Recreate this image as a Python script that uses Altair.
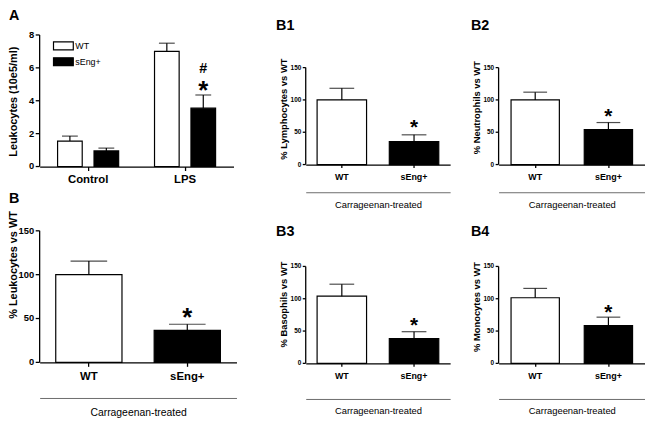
import altair as alt
import pandas as pd

FONT = "Liberation Sans"

# ---------------- data ----------------
# Panel A: leukocytes (10e5/ml)
a_groups = ["Control", "Control", "LPS", "LPS"]
a_series = ["WT", "sEng+", "WT", "sEng+"]
a_means = [1.55, 0.95, 7.0, 3.55]
a_errs = [0.3, 0.17, 0.5, 0.8]
a_sig_groups = ["LPS", "LPS"]
a_sig_series = ["sEng+", "sEng+"]
a_sig_y = [5.0, 6.0]
a_sig_sym = ["*", "#"]
a_yticks = [0, 2, 4, 6, 8]

genotypes = ["WT", "sEng+"]
pct_ticks = [0, 50, 100, 150]

b_means = [100, 36.5]
b_errs = [15.5, 7.0]
b_star = 57.5

b1_means = [100, 35.5]
b1_errs = [18, 10.5]
b1_star = 65

b2_means = [100, 54]
b2_errs = [12, 11]
b2_star = 83

b3_means = [104, 38.5]
b3_errs = [18.5, 10.5]
b3_star = 67

b4_means = [101.5, 58.5]
b4_errs = [14.5, 13]
b4_star = 87

fill_scale = alt.Scale(domain=genotypes, range=["white", "black"])


def y_axis_layers(ys, ticks, tick, lab_fs, title, title_fs, title_x, title_y):
    """Left axis drawn from marks on the panel's own y scale."""
    tdf = pd.DataFrame({"v": ticks})
    ldf = pd.DataFrame({"lo": [ticks[0]], "hi": [ticks[-1]]})
    line = alt.Chart(ldf).mark_rule(color="black", strokeWidth=1.3).encode(
        x=alt.value(0), y=alt.Y("lo:Q", scale=ys, axis=None), y2="hi:Q")
    tks = alt.Chart(tdf).mark_rule(color="black", strokeWidth=1.3).encode(
        x=alt.value(-tick), x2=alt.value(0), y=alt.Y("v:Q", scale=ys, axis=None))
    labs = alt.Chart(tdf).mark_text(align="right", baseline="middle", fontSize=lab_fs,
                                    fontWeight="bold", font=FONT, color="black").encode(
        x=alt.value(-tick - 1.5), y=alt.Y("v:Q", scale=ys, axis=None), text=alt.Text("v:Q"))
    ttl = alt.Chart(pd.DataFrame({"t": [title]})).mark_text(
        angle=270, align="center", baseline="middle", fontSize=title_fs, fontWeight="bold",
        font=FONT, color="black").encode(x=alt.value(title_x), y=alt.value(title_y), text="t:N")
    return [line, tks, labs, ttl]


def panel_label(text, x, y):
    return alt.Chart(pd.DataFrame({"p": [text]})).mark_text(
        align="left", baseline="top", fontSize=14.5, fontWeight="bold", font=FONT,
        color="black").encode(x=alt.value(x), y=alt.value(y), text="p:N")


# ---------------- panel A ----------------
a_df = pd.DataFrame({"group": a_groups, "series": a_series, "mean": a_means,
                     "top": [m + e for m, e in zip(a_means, a_errs)]})
a_sig = pd.DataFrame({"group": a_sig_groups, "series": a_sig_series,
                      "y": a_sig_y, "sym": a_sig_sym})

a_xs = alt.Scale(domain=["Control", "LPS"], range=[0, 196], paddingInner=0.37, paddingOuter=0.185)
a_xo = alt.Scale(domain=genotypes, paddingInner=0.324, paddingOuter=0)
a_ys = alt.Scale(domain=[0, 8], nice=False)

a_bars = alt.Chart(a_df).mark_bar(stroke="black", strokeWidth=1.2).encode(
    x=alt.X("group:N", scale=a_xs, axis=alt.Axis(title=None, labelAngle=0, labelFontSize=11.5,
                                                 labelFontWeight="bold", tickSize=4, labelPadding=3)),
    xOffset=alt.XOffset("series:N", scale=a_xo),
    y=alt.Y("mean:Q", scale=a_ys, axis=None),
    fill=alt.Fill("series:N", scale=fill_scale,
                  legend=alt.Legend(title=None, orient="none", legendX=15, legendY=2,
                                    symbolType="M-1.25,-0.5H1.25V0.5H-1.25Z", symbolSize=256,
                                    symbolStrokeColor="black", symbolStrokeWidth=1.2,
                                    labelFontSize=9, labelFont=FONT, labelOffset=3,
                                    rowPadding=0, padding=0, labelColor="black")),
)
a_rules = alt.Chart(a_df).mark_rule(color="black", strokeWidth=1.2).encode(
    x=alt.X("group:N", scale=a_xs, axis=None),
    xOffset=alt.XOffset("series:N", scale=a_xo),
    y=alt.Y("mean:Q", scale=a_ys, axis=None),
    y2="top:Q",
)
a_caps = alt.Chart(a_df).mark_tick(color="black", size=16, thickness=1.2).encode(
    x=alt.X("group:N", scale=a_xs, axis=None),
    xOffset=alt.XOffset("series:N", scale=a_xo),
    y=alt.Y("top:Q", scale=a_ys, axis=None),
)
a_star = alt.Chart(a_sig).transform_filter(alt.datum.sym == "*").mark_text(
    fontSize=26, fontWeight="bold", font=FONT, baseline="alphabetic", dy=14.5, color="black"
).encode(
    x=alt.X("group:N", scale=a_xs, axis=None),
    xOffset=alt.XOffset("series:N", scale=a_xo),
    y=alt.Y("y:Q", scale=a_ys, axis=None),
    text="sym:N",
)
a_hash = alt.Chart(a_sig).transform_filter(alt.datum.sym == "#").mark_text(
    fontSize=14.5, fontWeight="bold", font=FONT, baseline="alphabetic", dy=5.2, color="black"
).encode(
    x=alt.X("group:N", scale=a_xs, axis=None),
    xOffset=alt.XOffset("series:N", scale=a_xo),
    y=alt.Y("y:Q", scale=a_ys, axis=None),
    text="sym:N",
)
panel_a = alt.layer(
    a_bars, a_rules, a_caps, a_star, a_hash,
    *y_axis_layers(a_ys, a_yticks, 4, 9.5, "Leukocytes (10e5/ml)", 11, -25.5, 67.5),
    panel_label("A", -31, -26),
).resolve_axis(x="independent").properties(width=269, height=133)


# ---------------- panels B ----------------
def b_panel(label, ytitle, means, errs, star, w, h, ytop, xr, pin, cap, ylab_fs, xlab_fs,
            ytitle_fs, tick, title_x, title_y, sep_off, sep_fs, sep_pad, star_fs, xlab_pad,
            lx, ly):
    df = pd.DataFrame({"geno": genotypes, "mean": means,
                       "top": [m + e for m, e in zip(means, errs)]})
    sdf = pd.DataFrame({"geno": ["sEng+"], "y": [star], "sym": ["*"]})
    xs = alt.Scale(domain=genotypes, range=xr, paddingInner=pin, paddingOuter=pin / 2)
    # 0 at the bottom of the view, 150 at `ytop` pixels below its top
    ys = alt.Scale(domain=[0, 150 * h / (h - ytop)], nice=False)
    bars = alt.Chart(df).mark_bar(stroke="black", strokeWidth=1.2).encode(
        x=alt.X("geno:N", scale=xs, axis=alt.Axis(title=None, labelAngle=0, labelFontSize=xlab_fs,
                                                  labelFontWeight="bold", tickSize=tick,
                                                  labelPadding=xlab_pad)),
        y=alt.Y("mean:Q", scale=ys, axis=None),
        fill=alt.Fill("geno:N", scale=fill_scale, legend=None),
    )
    rules = alt.Chart(df).mark_rule(color="black", strokeWidth=1.2).encode(
        x=alt.X("geno:N", scale=xs, axis=None),
        y=alt.Y("mean:Q", scale=ys, axis=None),
        y2="top:Q",
    )
    caps = alt.Chart(df).mark_tick(color="black", size=cap, thickness=1.2).encode(
        x=alt.X("geno:N", scale=xs, axis=None),
        y=alt.Y("top:Q", scale=ys, axis=None),
    )
    stars = alt.Chart(sdf).mark_text(fontSize=star_fs, fontWeight="bold", font=FONT,
                                     baseline="alphabetic", dy=0.56 * star_fs,
                                     color="black").encode(
        x=alt.X("geno:N", scale=xs,
                axis=alt.Axis(orient="bottom", offset=sep_off, labels=False, ticks=False,
                              domainColor="#6b6b6b", domainWidth=1,
                              title="Carrageenan-treated", titleFontSize=sep_fs,
                              titleFontWeight="normal", titlePadding=sep_pad)),
        y=alt.Y("y:Q", scale=ys, axis=None),
        text="sym:N",
    )
    return alt.layer(
        bars, rules, caps, stars,
        *y_axis_layers(ys, pct_ticks, tick, ylab_fs, ytitle, ytitle_fs, title_x, title_y),
        panel_label(label, lx, ly),
    ).resolve_axis(x="independent").properties(width=w, height=h)


panel_b = b_panel("B", "% Leukocytes vs WT", b_means, b_errs, b_star, 269, 133, 0,
                  [0, 199], 0.327, 37, 9.5, 11.5, 11, 4, -25.5, 34.5, 36, 10.5, 10, 26, 4,
                  -31, -39.3)
panel_b1 = b_panel("B1", "% Lymphocytes vs WT", b1_means, b1_errs, b1_star, 195, 131, 33,
                   [0, 146], 0.315, 25, 6.5, 9, 9.5, 3, -22, 75, 28, 9.5, 7, 21, 5, -30, -16.3)
panel_b2 = b_panel("B2", "% Neutrophils vs WT", b2_means, b2_errs, b2_star, 148, 131, 33,
                   [0, 148], 0.34, 24, 6.5, 9, 9.5, 3, -22, 73.5, 28, 9.5, 7, 21, 5, -28, -16.3)
panel_b3 = b_panel("B3", "% Basophils vs WT", b3_means, b3_errs, b3_star, 195, 134, 36,
                   [0, 146], 0.315, 25, 6.5, 9, 9.5, 3, -22, 74.5, 36, 9.5, 7, 21, 5, -30, -5.8)
panel_b4 = b_panel("B4", "% Monocytes vs WT", b4_means, b4_errs, b4_star, 148, 134, 36,
                   [0, 148], 0.34, 24, 6.5, 9, 9.5, 3, -22, 77, 36, 9.5, 7, 21, 5, -28, -5.8)

chart = alt.concat(
    panel_a, panel_b1, panel_b2, panel_b, panel_b3, panel_b4,
    columns=3, spacing={"row": 65, "column": 0}, align="each", bounds="flush",
).resolve_scale(fill="independent").properties(
    padding={"left": 0, "top": -2, "right": 0, "bottom": 0}
).configure_view(stroke=None).configure_axis(
    grid=False, domainColor="black", tickColor="black", labelColor="black",
    titleColor="black", labelFont=FONT, titleFont=FONT, domainWidth=1.3, tickWidth=1.3
).configure_legend(labelFont=FONT)

chart.save("out.html", embed_options={"renderer": "svg", "actions": False})
